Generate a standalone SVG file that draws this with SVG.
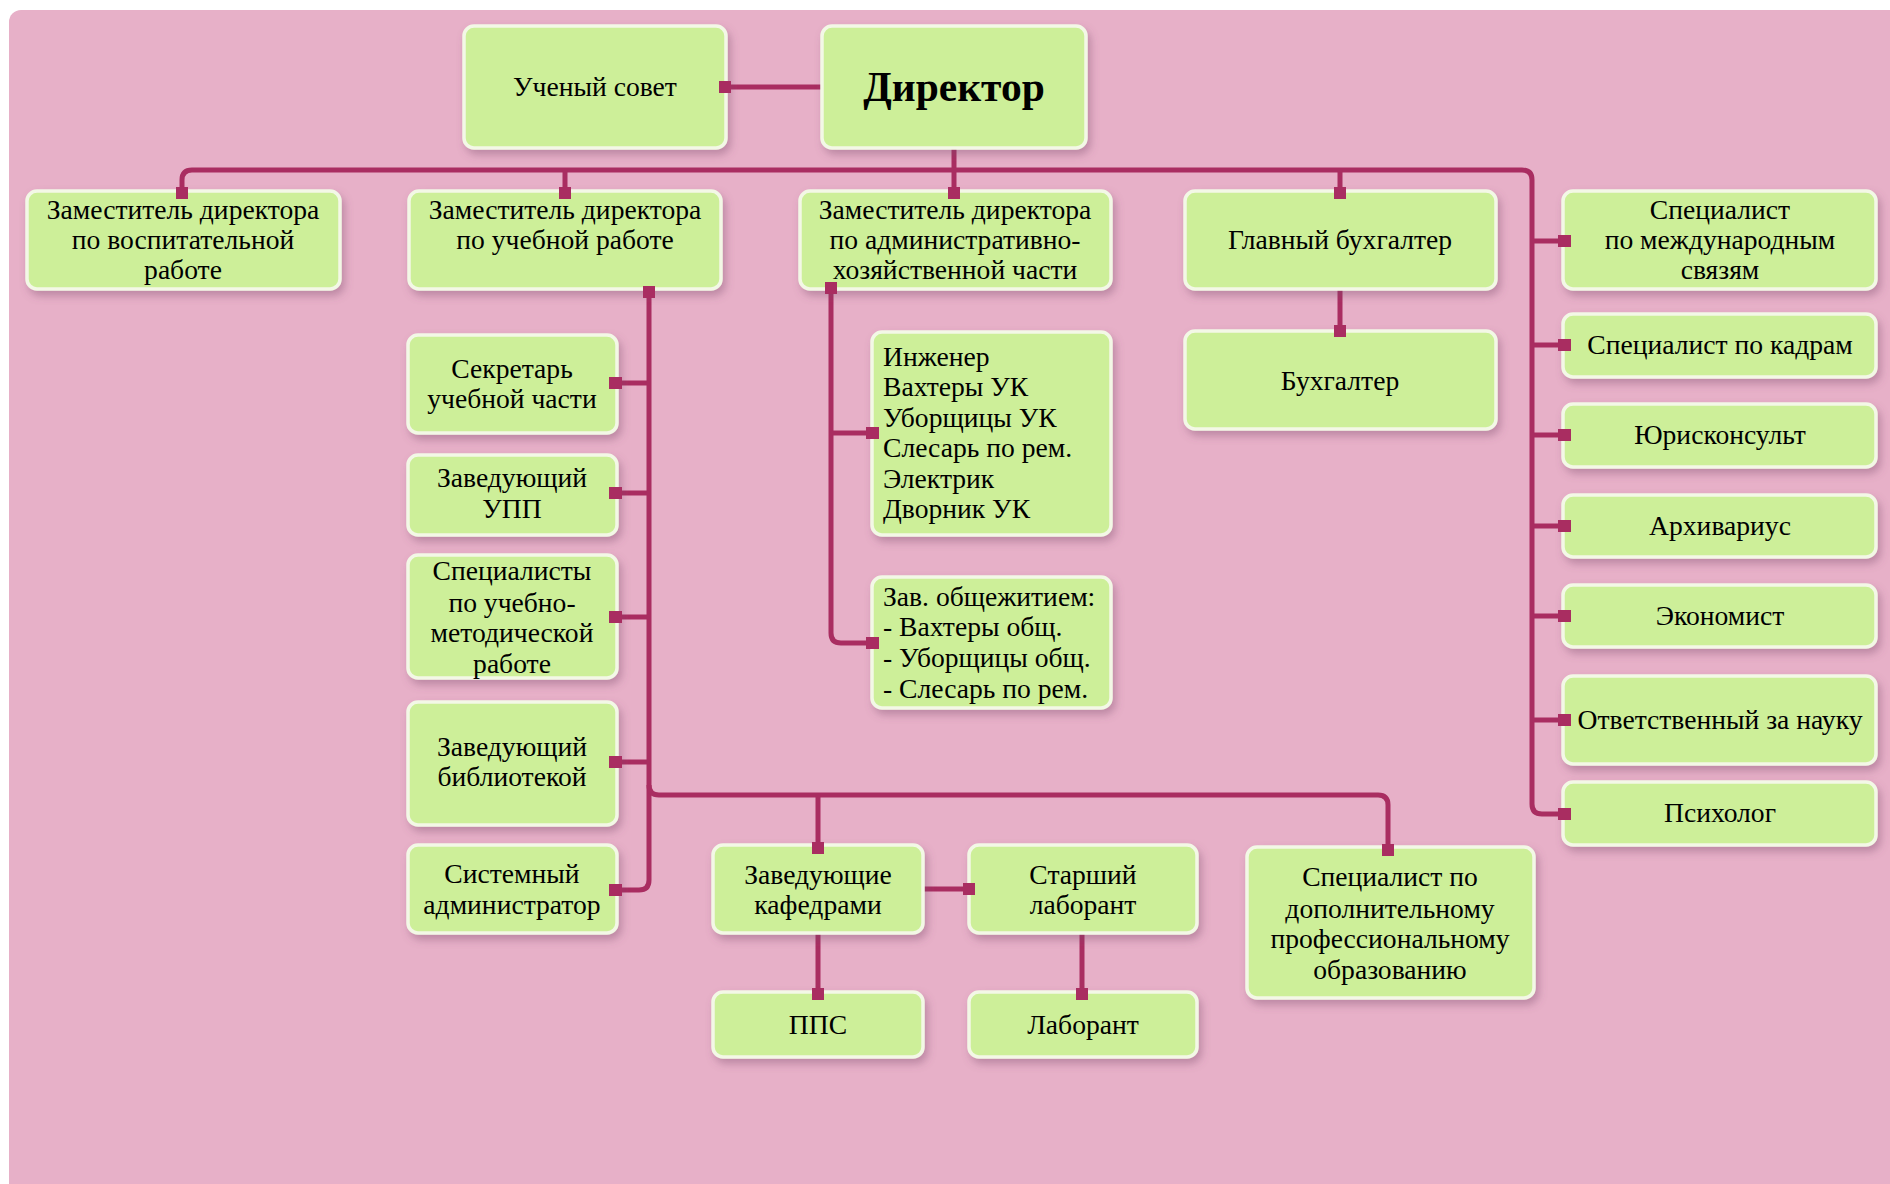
<svg xmlns="http://www.w3.org/2000/svg" width="1890" height="1184" viewBox="0 0 1890 1184">
<defs>
<filter id="sh" x="-10%" y="-10%" width="125%" height="135%">
<feDropShadow dx="3" dy="5" stdDeviation="4" flood-color="#7a4a6a" flood-opacity="0.4"/>
</filter>
<style>
.n{fill:#CDEF99;stroke:#F3F8E6;stroke-width:3.5;filter:url(#sh)}
.t{font-family:"Liberation Serif","Times New Roman",serif;font-size:27.6px;fill:#000;text-anchor:middle}
.l{text-anchor:start}
.c{fill:none;stroke:#A92D61;stroke-width:5;stroke-linejoin:round}
.s{fill:#A92D61}
</style>
</defs>
<rect x="0" y="0" width="1890" height="1184" fill="#FFFFFF"/>
<rect x="9" y="10" width="1900" height="1200" rx="12" fill="#E7B0C8"/>

<g id="connectors">
<path class="c" d="M726 87 H822"/>
<path class="c" d="M954 148 V192"/>
<path class="c" d="M182 192 V180 Q182 170 192 170 H1522 Q1532 170 1532 180 V804 Q1532 814 1542 814 H1563"/>
<path class="c" d="M565 170 V192"/>
<path class="c" d="M1340 170 V192"/>
<path class="c" d="M1532 241 H1563 M1532 345 H1563 M1532 435 H1563 M1532 526 H1563 M1532 616 H1563 M1532 720 H1563"/>
<path class="c" d="M1340 289 V331"/>
<path class="c" d="M649 291 V880 Q649 890 639 890 H617"/>
<path class="c" d="M649 383 H617 M649 493 H617 M649 617 H617 M649 762 H617"/>
<path class="c" d="M649 785 Q649 795 659 795 H1378 Q1388 795 1388 805 V850"/>
<path class="c" d="M818 795 V847"/>
<path class="c" d="M923 889 H969"/>
<path class="c" d="M818 933 V993"/>
<path class="c" d="M1082 933 V993"/>
<path class="c" d="M831 287 V633 Q831 643 841 643 H872"/>
<path class="c" d="M831 433 H872"/>
</g>

<g id="nodes">
<g id="n-uchsovet"><rect class="n" x="464" y="26" width="262" height="122" rx="10"/><text class="t" x="595" y="96">Ученый совет</text></g>
<g id="n-director"><rect class="n" x="822" y="26" width="264" height="122" rx="10"/><text class="t" x="954" y="101" style="font-size:41.5px;font-weight:bold">Директор</text></g>
<g id="n-zamvosp"><rect class="n" x="27" y="191" width="313" height="98" rx="10"/><text class="t" x="183" y="219">Заместитель директора</text><text class="t" x="183" y="249">по воспитательной</text><text class="t" x="183" y="279">работе</text></g>
<g id="n-zamuch"><rect class="n" x="409" y="191" width="312" height="98" rx="10"/><text class="t" x="565" y="219">Заместитель директора</text><text class="t" x="565" y="249">по учебной работе</text></g>
<g id="n-zamadm"><rect class="n" x="800" y="191" width="311" height="98" rx="10"/><text class="t" x="955" y="219">Заместитель директора</text><text class="t" x="955" y="249">по административно-</text><text class="t" x="955" y="279">хозяйственной части</text></g>
<g id="n-glbuh"><rect class="n" x="1185" y="191" width="311" height="98" rx="10"/><text class="t" x="1340" y="249">Главный бухгалтер</text></g>
<g id="n-mezhd"><rect class="n" x="1563" y="191" width="313" height="98" rx="10"/><text class="t" x="1720" y="219">Специалист</text><text class="t" x="1720" y="249">по международным</text><text class="t" x="1720" y="279">связям</text></g>
<g id="n-buh"><rect class="n" x="1185" y="331" width="311" height="98" rx="10"/><text class="t" x="1340" y="390">Бухгалтер</text></g>
<g id="n-kadry"><rect class="n" x="1563" y="314" width="313" height="63" rx="10"/><text class="t" x="1720" y="354">Специалист по кадрам</text></g>
<g id="n-yur"><rect class="n" x="1563" y="404" width="313" height="63" rx="10"/><text class="t" x="1720" y="444">Юрисконсульт</text></g>
<g id="n-arhiv"><rect class="n" x="1563" y="495" width="313" height="62" rx="10"/><text class="t" x="1720" y="535">Архивариус</text></g>
<g id="n-ekon"><rect class="n" x="1563" y="585" width="313" height="62" rx="10"/><text class="t" x="1720" y="625">Экономист</text></g>
<g id="n-nauka"><rect class="n" x="1563" y="676" width="313" height="88" rx="10"/><text class="t" x="1720" y="729">Ответственный за науку</text></g>
<g id="n-psih"><rect class="n" x="1563" y="782" width="313" height="63" rx="10"/><text class="t" x="1720" y="822">Психолог</text></g>
<g id="n-sekr"><rect class="n" x="408" y="335" width="209" height="98" rx="10"/><text class="t" x="512" y="378">Секретарь</text><text class="t" x="512" y="408">учебной части</text></g>
<g id="n-upp"><rect class="n" x="408" y="455" width="209" height="80" rx="10"/><text class="t" x="512" y="487">Заведующий</text><text class="t" x="512" y="518">УПП</text></g>
<g id="n-umr"><rect class="n" x="408" y="555" width="209" height="123" rx="10"/><text class="t" x="512" y="580">Специалисты</text><text class="t" x="512" y="612">по учебно-</text><text class="t" x="512" y="642">методической</text><text class="t" x="512" y="673">работе</text></g>
<g id="n-bibl"><rect class="n" x="408" y="702" width="209" height="123" rx="10"/><text class="t" x="512" y="756">Заведующий</text><text class="t" x="512" y="786">библиотекой</text></g>
<g id="n-sysadm"><rect class="n" x="408" y="845" width="209" height="88" rx="10"/><text class="t" x="512" y="883">Системный</text><text class="t" x="512" y="914">администратор</text></g>
<g id="n-zavkaf"><rect class="n" x="713" y="845" width="210" height="88" rx="10"/><text class="t" x="818" y="884">Заведующие</text><text class="t" x="818" y="914">кафедрами</text></g>
<g id="n-stlab"><rect class="n" x="969" y="845" width="228" height="88" rx="10"/><text class="t" x="1083" y="884">Старший</text><text class="t" x="1083" y="914">лаборант</text></g>
<g id="n-pps"><rect class="n" x="713" y="992" width="210" height="65" rx="10"/><text class="t" x="818" y="1034">ППС</text></g>
<g id="n-lab"><rect class="n" x="969" y="992" width="228" height="65" rx="10"/><text class="t" x="1083" y="1034">Лаборант</text></g>
<g id="n-dpo"><rect class="n" x="1247" y="847" width="287" height="151" rx="10"/><text class="t" x="1390" y="886">Специалист по</text><text class="t" x="1390" y="918">дополнительному</text><text class="t" x="1390" y="948">профессиональному</text><text class="t" x="1390" y="979">образованию</text></g>
<g id="n-inzh"><rect class="n" x="872" y="332" width="239" height="203" rx="10"/><text class="t l" x="883" y="366">Инженер</text><text class="t l" x="883" y="396">Вахтеры УК</text><text class="t l" x="883" y="427">Уборщицы УК</text><text class="t l" x="883" y="457">Слесарь по рем.</text><text class="t l" x="883" y="488">Электрик</text><text class="t l" x="883" y="518">Дворник УК</text></g>
<g id="n-obsh"><rect class="n" x="872" y="577" width="239" height="131" rx="10"/><text class="t l" x="883" y="606">Зав. общежитием:</text><text class="t l" x="883" y="636">- Вахтеры общ.</text><text class="t l" x="883" y="667">- Уборщицы общ.</text><text class="t l" x="883" y="698">- Слесарь по рем.</text></g>
</g>

<g id="terminals">
<rect class="s" x="719" y="81" width="12" height="12"/>
<rect class="s" x="176" y="187" width="12" height="12"/>
<rect class="s" x="559" y="187" width="12" height="12"/>
<rect class="s" x="948" y="187" width="12" height="12"/>
<rect class="s" x="1334" y="187" width="12" height="12"/>
<rect class="s" x="1334" y="325" width="12" height="12"/>
<rect class="s" x="1558" y="235" width="13" height="12"/>
<rect class="s" x="1558" y="339" width="13" height="12"/>
<rect class="s" x="1558" y="429" width="13" height="12"/>
<rect class="s" x="1558" y="520" width="13" height="12"/>
<rect class="s" x="1558" y="610" width="13" height="12"/>
<rect class="s" x="1558" y="714" width="13" height="12"/>
<rect class="s" x="1558" y="808" width="13" height="12"/>
<rect class="s" x="643" y="286" width="12" height="12"/>
<rect class="s" x="825" y="282" width="12" height="12"/>
<rect class="s" x="609" y="377" width="13" height="12"/>
<rect class="s" x="609" y="487" width="13" height="12"/>
<rect class="s" x="609" y="611" width="13" height="12"/>
<rect class="s" x="609" y="756" width="13" height="12"/>
<rect class="s" x="609" y="884" width="13" height="12"/>
<rect class="s" x="866" y="427" width="13" height="12"/>
<rect class="s" x="866" y="637" width="13" height="12"/>
<rect class="s" x="812" y="842" width="12" height="12"/>
<rect class="s" x="1382" y="844" width="12" height="12"/>
<rect class="s" x="963" y="883" width="12" height="12"/>
<rect class="s" x="812" y="988" width="12" height="12"/>
<rect class="s" x="1076" y="988" width="12" height="12"/>
</g>
</svg>
